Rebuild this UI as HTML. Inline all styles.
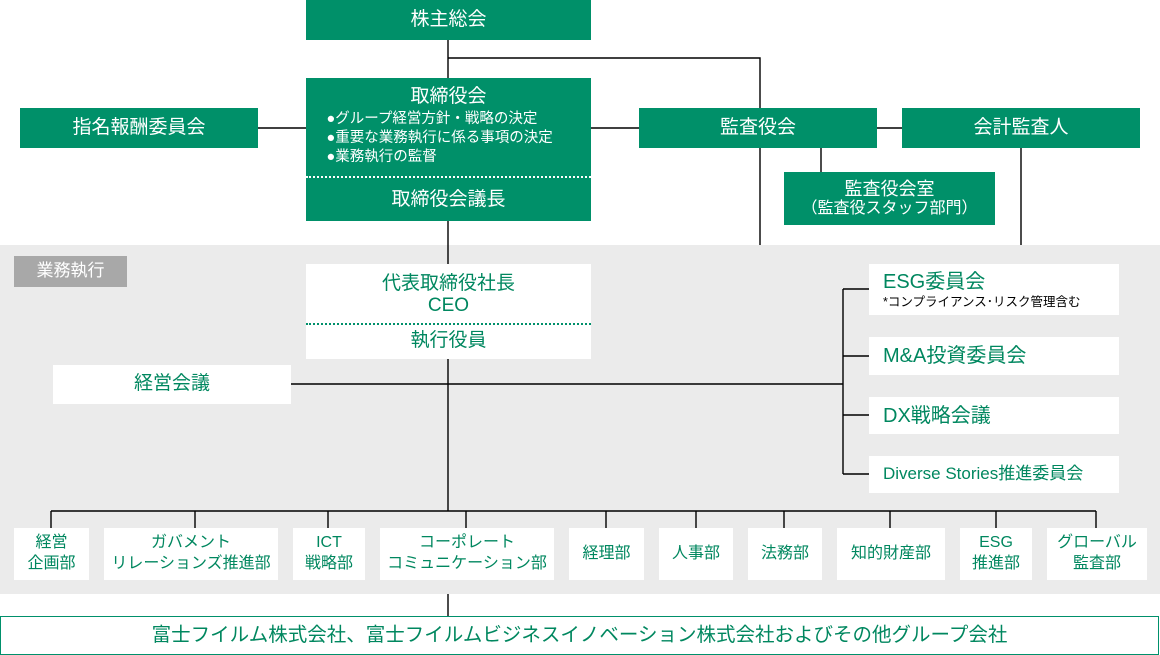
<!DOCTYPE html>
<html><head><meta charset="utf-8"><style>
*{margin:0;padding:0;box-sizing:border-box}
body{width:1160px;height:655px;position:relative;background:#fff;font-family:"Liberation Sans","Noto Sans CJK JP",sans-serif;overflow:hidden}
.b{position:absolute;display:flex;flex-direction:column;align-items:center;justify-content:center;text-align:center;line-height:1.2}
.g{background:#009069;color:#fff;font-size:19px}
.w{background:#fff;color:#00875f;font-size:19px}
.d{font-size:16px;line-height:1.3}
svg{position:absolute;left:0;top:0}
</style></head><body>
<div style="position:absolute;left:0;top:245px;width:1160px;height:349px;background:#ebebeb"></div>
<svg width="1160" height="655"><g stroke="#000" stroke-width="1.4" fill="none">
<path d="M448 40V78M448 58H760V245M258 128H306M591 128H639M877 128H902M821 148V172M1021 148V245"/>
<path d="M448 221V264M448 359V511M291 384H843M843 289V474M843 289H869M843 356H869M843 415H869M843 474H869"/>
<path d="M51 511H1096M51 511V528M195 511V528M328 511V528M466 511V528M606 511V528M696 511V528M784 511V528M890 511V528M996 511V528M1096 511V528M448 594V616"/>
</g></svg>
<div class="b g" style="left:306px;top:0;width:285px;height:40px">株主総会</div>
<div class="b g" style="left:20px;top:108px;width:238px;height:40px">指名報酬委員会</div>
<div class="b g" style="left:306px;top:78px;width:285px;height:143px;justify-content:flex-start">
 <div style="margin-top:8px;font-size:19px">取締役会</div>
 <div style="font-size:14.5px;line-height:19px;text-align:left;margin-top:1px;width:260px;padding-left:8px">●グループ経営方針・戦略の決定<br>●重要な業務執行に係る事項の決定<br>●業務執行の監督</div>
 <div style="position:absolute;left:0;right:0;top:98px;border-top:2px dotted #fff"></div>
 <div style="position:absolute;top:111px;width:100%;font-size:19px">取締役会議長</div>
</div>
<div class="b g" style="left:639px;top:108px;width:238px;height:40px">監査役会</div>
<div class="b g" style="left:902px;top:108px;width:238px;height:40px">会計監査人</div>
<div class="b g" style="left:784px;top:172px;width:211px;height:53px;font-size:18px;line-height:1.15">監査役会室<br><span style="font-size:16px">（監査役スタッフ部門）</span></div>
<div class="b" style="left:14px;top:256px;width:113px;height:31px;background:#a8a8a8;color:#fff;font-size:17px">業務執行</div>
<div class="b w" style="left:306px;top:264px;width:285px;height:95px;justify-content:flex-start">
 <div style="margin-top:9px;line-height:22px">代表取締役社長<br>CEO</div>
 <div style="position:absolute;left:0;right:0;top:59px;border-top:2px dotted #00906b"></div>
 <div style="position:absolute;top:66px;width:100%">執行役員</div>
</div>
<div class="b w" style="left:53px;top:365px;width:238px;height:39px">経営会議</div>
<div class="b w" style="left:869px;top:264px;width:250px;height:51px;align-items:flex-start;padding-left:14px">
 <div style="font-size:20px">ESG委員会</div><div style="color:#000;font-size:12.5px;margin-top:1px">*コンプライアンス･リスク管理含む</div></div>
<div class="b w" style="left:869px;top:337px;width:250px;height:38px;align-items:flex-start;padding-left:14px;font-size:20px">M&amp;A投資委員会</div>
<div class="b w" style="left:869px;top:397px;width:250px;height:37px;align-items:flex-start;padding-left:14px;font-size:20px">DX戦略会議</div>
<div class="b w" style="left:869px;top:456px;width:250px;height:37px;align-items:flex-start;padding-left:14px;font-size:17px">Diverse Stories推進委員会</div>
<div class="b w d" style="left:14px;top:528px;width:75px;height:52px">経営<br>企画部</div>
<div class="b w d" style="left:104px;top:528px;width:174px;height:52px">ガバメント<br>リレーションズ推進部</div>
<div class="b w d" style="left:293px;top:528px;width:72px;height:52px">ICT<br>戦略部</div>
<div class="b w d" style="left:380px;top:528px;width:174px;height:52px">コーポレート<br>コミュニケーション部</div>
<div class="b w d" style="left:569px;top:528px;width:75px;height:52px">経理部</div>
<div class="b w d" style="left:659px;top:528px;width:74px;height:52px">人事部</div>
<div class="b w d" style="left:748px;top:528px;width:74px;height:52px">法務部</div>
<div class="b w d" style="left:837px;top:528px;width:108px;height:52px">知的財産部</div>
<div class="b w d" style="left:960px;top:528px;width:72px;height:52px">ESG<br>推進部</div>
<div class="b w d" style="left:1047px;top:528px;width:100px;height:52px">グローバル<br>監査部</div>
<div class="b w" style="left:0;top:616px;width:1159px;height:39px;border:1.5px solid #00906b;font-size:19.5px">富士フイルム株式会社、富士フイルムビジネスイノベーション株式会社およびその他グループ会社</div>
</body></html>
